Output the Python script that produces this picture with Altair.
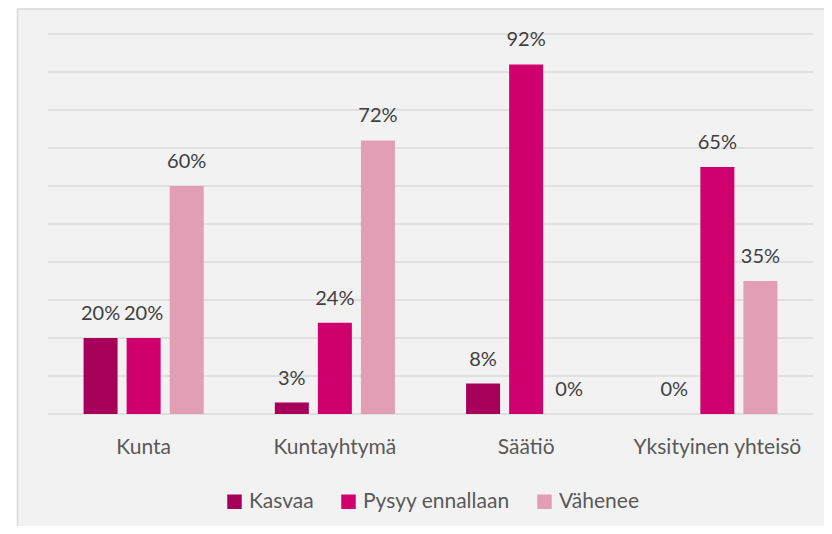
import altair as alt
import pandas as pd

categories = ["Kunta", "Kuntayhtymä", "Säätiö", "Yksityinen yhteisö"]
series = ["Kasvaa", "Pysyy ennallaan", "Vähenee"]
kasvaa = [20, 3, 8, 0]
pysyy = [20, 24, 92, 65]
vahenee = [60, 72, 0, 35]
colors = ["#A6005B", "#D1006F", "#E29EB4"]
grid_values = list(range(0, 101, 10))

rows = []
for s, vals in zip(series, [kasvaa, pysyy, vahenee]):
    for c, v in zip(categories, vals):
        rows.append({"Kategoria": c, "Sarja": s, "Osuus": v, "Teksti": f"{v}%"})
df = pd.DataFrame(rows)

W, H = 765, 380
FONT = "Lato"

x_enc = alt.X(
    "Kategoria:N",
    sort=categories,
    scale=alt.Scale(paddingInner=0.372, paddingOuter=0.186),
    axis=alt.Axis(
        title=None, labelAngle=0, ticks=False, domain=False, grid=False,
        labelPadding=22, labelFont=FONT, labelFontSize=21, labelColor="#595959",
        zindex=2,
    ),
)
xoff = alt.XOffset("Sarja:N", sort=series,
                   scale=alt.Scale(paddingInner=0.21, paddingOuter=0))
y_enc = alt.Y("Osuus:Q", scale=alt.Scale(domain=[0, 100]), axis=None)

frame = alt.Chart(pd.DataFrame({"k": [0]})).mark_rect(
    fill="#f2f2f2", stroke="#d9d9d9", strokeWidth=1.5, clip=False
).encode(
    x=alt.value(-30.5), x2=alt.value(W + 60),
    y=alt.value(-25), y2=alt.value(H + 140),
)

grid = alt.Chart(pd.DataFrame({"g": grid_values})).mark_rule(
    color="#d9d9d9", strokeWidth=1.3
).encode(
    y=alt.Y("g:Q", axis=None, scale=alt.Scale(domain=[0, 100])),
    x=alt.value(0), x2=alt.value(W),
)

bars = alt.Chart(df).mark_bar().encode(
    x=x_enc,
    xOffset=xoff,
    y=y_enc,
    color=alt.Color(
        "Sarja:N", sort=series,
        scale=alt.Scale(domain=series, range=colors),
        legend=alt.Legend(
            title=None, orient="none", direction="horizontal",
            legendX=176, legendY=457,
            symbolType="square", symbolSize=210, symbolStrokeWidth=0,
            labelFont=FONT, labelFontSize=21, labelColor="#595959",
            labelOffset=4, columnPadding=24, zindex=2,
        ),
    ),
)

labels = alt.Chart(df).mark_text(
    dy=-18, baseline="alphabetic", font=FONT, fontSize=20, color="#404040"
).encode(
    x=x_enc, xOffset=xoff, y=y_enc, text="Teksti:N",
)

chart = alt.layer(frame, grid, bars, labels).properties(
    width=W, height=H,
    autosize="none",
    padding={"left": 40, "top": 26, "right": 11, "bottom": 112},
    background="white",
).configure_view(stroke=None)

chart.save("out.html", embed_options={"renderer": "svg", "actions": False})
